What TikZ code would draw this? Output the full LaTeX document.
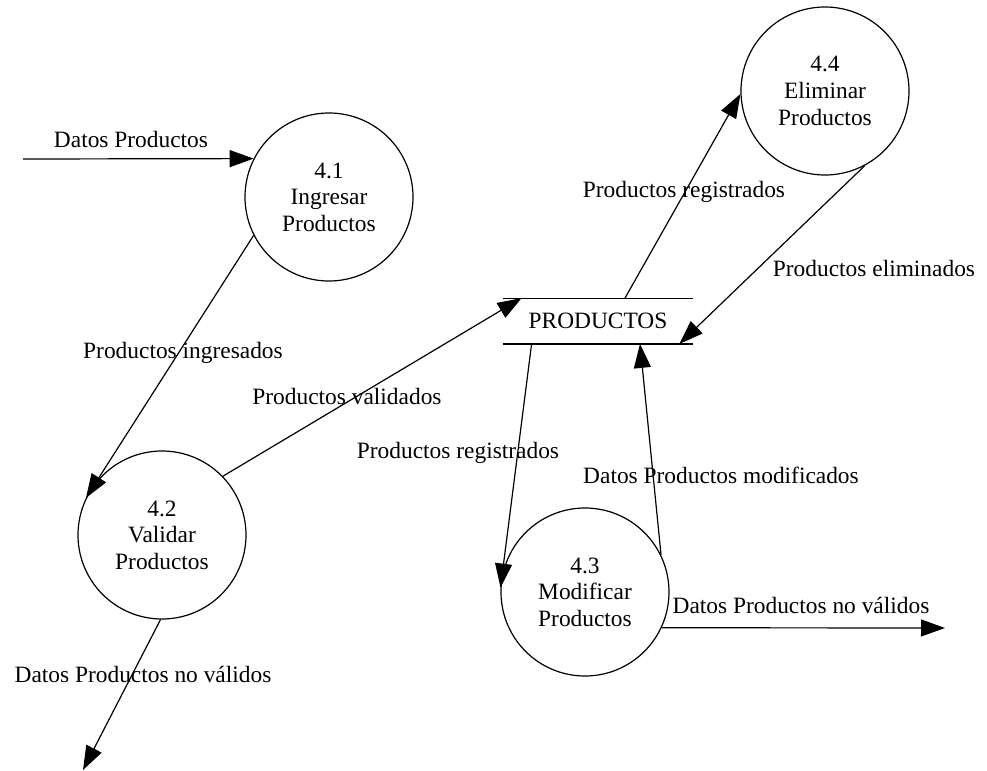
\documentclass[tikz,border=0pt]{standalone}
\usepackage{fontspec}
\setmainfont{Liberation Serif}
\usetikzlibrary{arrows.meta}

\begin{document}
\begin{tikzpicture}[x=0.5pt,y=-0.5pt,
	process/.style={draw,
		circle,
		line width=0.6pt,
		minimum size=84pt,
		inner sep=0pt,
		align=center,
		font=\fontsize{11.7}{13.3}\selectfont},
	datastore/.style={minimum width=95pt,
		minimum height=22.5pt,
		inner sep=0pt,
		font=\fontsize{11.7}{13.3}\selectfont},
	flow/.style={line width=0.6pt,
		-{Triangle[length=12pt,width=8.5pt]}},
	flowlabel/.style={anchor=base,
		inner sep=0pt,
		font=\fontsize{11.7}{13.3}\selectfont}]
		\useasboundingbox (0,0) rectangle (987,771);
		% processes
		\node[process] (c41) at (329,197) {4.1\\Ingresar\\Productos};
		\node[process] (c42) at (162,535) {4.2\\Validar\\Productos};
		\node[process] (c43) at (585,592) {4.3\\Modificar\\Productos};
		\node[process] (c44) at (825,91) {4.4\\Eliminar\\Productos};
		% data store
		\node[datastore] (prod) at (598,321) {PRODUCTOS};
		\draw[line width=0.6pt] (prod.north west) -- (prod.north east)
		(prod.south west) -- (prod.south east);
		% free ends
		\coordinate (in41) at (23,159);
		\coordinate (out42) at (83,770);
		\coordinate (out43) at (945,628);

		% input to 4.1
		\draw[flow] (in41) -- (c41.153);
		\node[flowlabel] (l1) at (131,148) {Datos Productos};
		% 4.1 to 4.2
		\draw[flow] (c41.207) -- (c42.154);
		\node[flowlabel] (l2) at (183,358) {Productos ingresados};
		% 4.2 to store
		\draw[flow] (c42.44) -- ([xshift=9.5pt]prod.north west);
		\node[flowlabel] (l3) at (347,404) {Productos validados};
		% 4.2 rejected
		\draw[flow] (c42.269) -- (out42);
		\node[flowlabel] (l4) at (143,682) {Datos Productos no válidos};
		% store to 4.4
		\draw[flow] ([xshift=13.5pt]prod.north) -- (c44.182);
		\node[flowlabel] (l5) at (684,197) {Productos registrados};
		% 4.4 to store
		\draw[flow] (c44.298) -- ([xshift=-7pt]prod.south east);
		\node[flowlabel] (l6) at (874,276) {Productos eliminados};
		% store to 4.3
		\draw[flow] ([xshift=14.5pt]prod.south west) -- (c43.177);
		\node[flowlabel] (l7) at (458,458) {Productos registrados};
		% 4.3 to store
		\draw[flow] (c43.26) -- ([xshift=21pt]prod.south);
		\node[flowlabel] (l8) at (721,483) {Datos Productos modificados};
		% 4.3 rejected
		\draw[flow] (c43.335) -- (out43);
		\node[flowlabel] (l9) at (801,613) {Datos Productos no válidos};
\end{tikzpicture}
\end{document}
